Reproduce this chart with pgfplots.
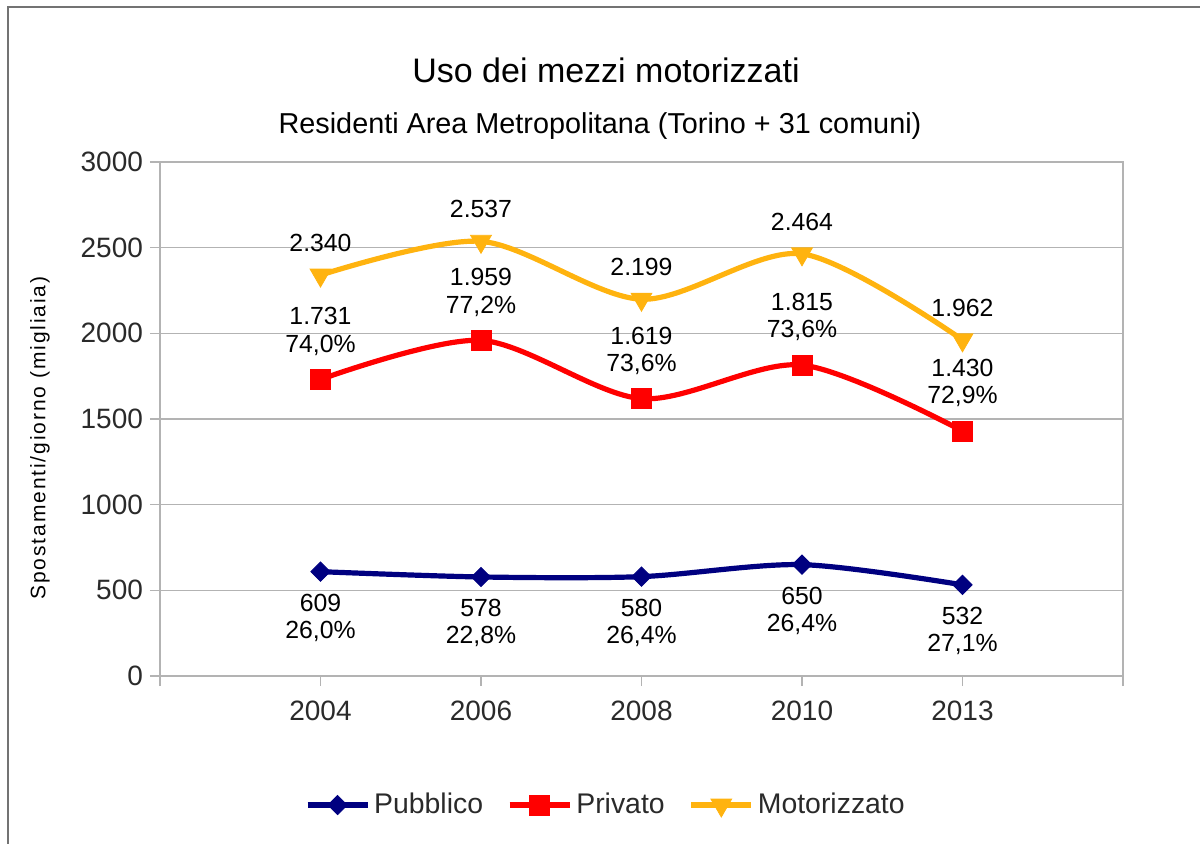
\documentclass[border=0pt]{standalone}
\usepackage{fontspec}
\setmainfont{Liberation Sans}
\usepackage{pgfplots}
\pgfplotsset{compat=1.18}
\definecolor{pub}{HTML}{000080}
\definecolor{priv}{HTML}{FF0000}
\definecolor{mot}{HTML}{FFB30F}
\definecolor{gridc}{HTML}{B3B3B3}
\definecolor{tickc}{HTML}{2A2A2A}
\begin{document}
\begin{tikzpicture}
\useasboundingbox (0,0) rectangle (600pt,421.5pt);
\draw[color=black!55, line width=1pt] (4pt,-2pt) -- (4pt,418pt) -- (602pt,418pt);
\node[font=\fontsize{17}{20}\selectfont] at (303pt,386.5pt) {Uso dei mezzi motorizzati};
\node[font=\fontsize{14.4}{17}\selectfont] at (300pt,358.5pt) {Residenti Area Metropolitana (Torino + 31 comuni)};
\begin{axis}[
  at={(80pt,83.5pt)}, anchor=south west,
  scale only axis, width=481.5pt, height=257pt,
  xmin=-1, xmax=5, ymin=0, ymax=3000,
  xtick={-1,0,1,2,3,4,5}, xticklabels={,2004,2006,2008,2010,2013,},
  ytick={0,500,...,3000},
  ymajorgrids, grid style={gridc, line width=0.6pt},
  axis line style={gridc, line width=0.7pt},
  tick style={gridc, line width=0.7pt},
  tick align=outside, major tick length=5pt,
  xtick pos=left, ytick pos=left,
  ticklabel style={font=\fontsize{14}{16}\selectfont, text=tickc},
  xticklabel style={yshift=-4pt},
  /pgf/number format/1000 sep={},
  /pgf/number format/assume math mode=true,
  scaled y ticks=false,
  ylabel={\addfontfeatures{LetterSpace=9}Spostamenti/giorno (migliaia)},
  every axis y label/.style={at={(rel axis cs:-0.1246,0.463)}, rotate=90, anchor=center, font=\fontsize{10.5}{12}\selectfont},
  legend style={at={(0.464,-0.251)}, anchor=center, draw=none, fill=none,
    legend columns=-1, font=\fontsize{14.2}{16}\selectfont, text=tickc,
    /tikz/every even column/.append style={column sep=10pt},
    legend cell align=left},
  legend image code/.code={\draw[mark repeat=2,mark phase=2,#1] plot coordinates {(0pt,0pt) (15pt,0pt) (30pt,0pt)};},
  point meta=explicit symbolic,
  nodes near coords,
  every node near coord/.append style={anchor=center, align=center, text=black, font=\fontsize{12.4}{13.6}\selectfont},
]
\addplot[pub, line width=2.6pt, smooth, mark=square*, mark size=3.4pt, mark options={rotate=45, solid, line width=0.4pt},
  every node near coord/.append style={yshift=-23pt}]
  coordinates {(0,609) [609\\26,0\%] (1,578) [578\\22,8\%] (2,580) [580\\26,4\%] (3,650) [650\\26,4\%] (4,532) [532\\27,1\%]};
\addlegendentry{Pubblico}
\addplot[priv, line width=2.6pt, smooth, mark=square*, mark size=5pt, mark options={solid, line width=0.4pt},
  every node near coord/.append style={yshift=24pt}]
  coordinates {(0,1731) [1.731\\74,0\%] (1,1959) [1.959\\77,2\%] (2,1619) [1.619\\73,6\%] (3,1815) [1.815\\73,6\%] (4,1430) [1.430\\72,9\%]};
\addlegendentry{Privato}
\addplot[mot, line width=2.6pt, smooth, mark=triangle*, mark size=6pt, mark options={rotate=180, solid, line width=0.4pt},
  every node near coord/.append style={yshift=16pt}]
  coordinates {(0,2340) [2.340] (1,2537) [2.537] (2,2199) [2.199] (3,2464) [2.464] (4,1962) [1.962]};
\addlegendentry{Motorizzato}
\end{axis}
\end{tikzpicture}
\end{document}
